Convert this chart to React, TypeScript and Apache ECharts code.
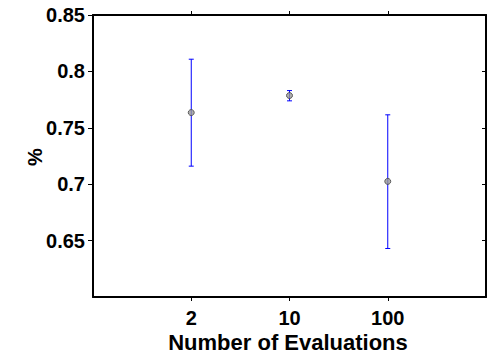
import React, { useEffect, useRef } from "react";
import * as echarts from "echarts";

const categories = ["2", "10", "100"];
const means = [0.7635, 0.7786, 0.7025];
const lower = [0.716, 0.7739, 0.643];
const upper = [0.8108, 0.783, 0.7615];
const yTicks = [0.65, 0.7, 0.75, 0.8, 0.85];
const xTitle = "Number of Evaluations";
const yTitle = "%";

const FONT = "Liberation Sans, Arial, sans-serif";

export default function App() {
  const ref = useRef<HTMLDivElement>(null);
  useEffect(() => {
    if (!ref.current) return;
    const chart = echarts.init(ref.current, null, { renderer: "svg" });
    const xPos = categories.map((_, i) => i + 1);
    const errData = categories.map((_, i) => [i + 1, lower[i], upper[i]]);
    const ptData = categories.map((_, i) => [i + 1, means[i]]);
    const xLabel = (v: number) => {
      const i = Math.round(v) - 1;
      return i >= 0 && i < categories.length ? categories[i] : "";
    };
    const yLabel = (v: number) => String(parseFloat(v.toFixed(2)));
    const axisLine = { show: true, onZero: false, lineStyle: { color: "#000", width: 2 } };
    chart.setOption({
      animation: false,
      backgroundColor: "#fff",
      grid: { left: 93, right: 4, top: 15, bottom: 59, containLabel: false, outerBoundsMode: "none" },
      xAxis: [
        {
          type: "value",
          min: 0,
          max: 4,
          interval: 1,
          position: "bottom",
          axisLine,
          axisTick: { show: true, length: 4, inside: false, customValues: xPos, lineStyle: { color: "#000", width: 1 } },
          axisLabel: {
            customValues: xPos,
            formatter: xLabel,
            fontFamily: FONT,
            fontWeight: "bold",
            fontSize: 20,
            color: "#000",
            margin: 11,
          },
          splitLine: { show: false },
        },
        {
          type: "value",
          min: 0,
          max: 4,
          interval: 1,
          position: "top",
          axisLine,
          axisTick: { show: true, length: 4, inside: false, customValues: xPos, lineStyle: { color: "#000", width: 1 } },
          axisLabel: { show: false },
          splitLine: { show: false },
        },
      ],
      yAxis: [
        {
          type: "value",
          min: 0.6,
          max: 0.85,
          interval: 0.05,
          position: "left",
          axisLine,
          axisTick: { show: true, length: 5, inside: false, customValues: yTicks, lineStyle: { color: "#000", width: 1 } },
          axisLabel: {
            customValues: yTicks,
            formatter: yLabel,
            fontFamily: FONT,
            fontWeight: "bold",
            fontSize: 20,
            color: "#000",
            margin: 8,
          },
          splitLine: { show: false },
        },
        {
          type: "value",
          min: 0.6,
          max: 0.85,
          interval: 0.05,
          position: "right",
          axisLine,
          axisTick: { show: true, length: 4, inside: true, customValues: yTicks, lineStyle: { color: "#000", width: 1 } },
          axisLabel: { show: false },
          splitLine: { show: false },
        },
      ],
      graphic: [
        {
          type: "text",
          x: 35,
          y: 157,
          rotation: Math.PI / 2,
          style: {
            text: yTitle,
            fontFamily: FONT,
            fontWeight: "bold",
            fontSize: 20,
            fill: "#000",
            align: "center",
            verticalAlign: "middle",
          },
        },
        {
          type: "text",
          x: 288,
          y: 342,
          style: {
            text: xTitle,
            fontFamily: FONT,
            fontWeight: "bold",
            fontSize: 22,
            fill: "#000",
            align: "center",
            verticalAlign: "middle",
          },
        },
      ],
      series: [
        {
          type: "custom",
          xAxisIndex: 0,
          yAxisIndex: 0,
          data: errData,
          renderItem: (params: any, api: any) => {
            const x = api.value(0);
            const lo = api.coord([x, api.value(1)]);
            const hi = api.coord([x, api.value(2)]);
            const w = 2.5;
            const st = { stroke: "#0000ff", lineWidth: 1 };
            return {
              type: "group",
              children: [
                { type: "line", shape: { x1: lo[0], y1: lo[1], x2: hi[0], y2: hi[1] }, style: st },
                { type: "line", shape: { x1: lo[0] - w, y1: lo[1], x2: lo[0] + w, y2: lo[1] }, style: st },
                { type: "line", shape: { x1: hi[0] - w, y1: hi[1], x2: hi[0] + w, y2: hi[1] }, style: st },
              ],
            };
          },
          z: 2,
        },
        {
          type: "scatter",
          xAxisIndex: 0,
          yAxisIndex: 0,
          data: ptData,
          symbol: "circle",
          symbolSize: 6,
          itemStyle: { color: "#999999", borderColor: "#444444", borderWidth: 1 },
          z: 3,
        },
      ],
    });
    return () => chart.dispose();
  }, []);
  return <div ref={ref} style={{ position: "fixed", left: 0, top: 0, width: 490, height: 356 }} />;
}
